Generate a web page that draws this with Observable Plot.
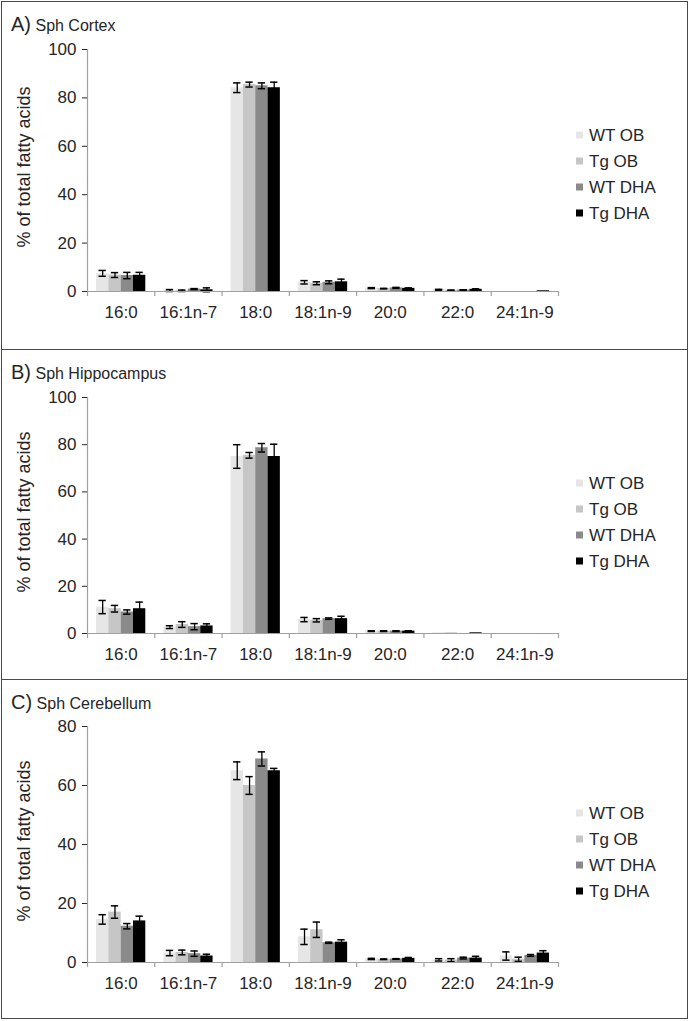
<!DOCTYPE html>
<html>
<head>
<meta charset="utf-8">
<script src="https://cdn.jsdelivr.net/npm/d3@7"></script>
<script src="https://cdn.jsdelivr.net/npm/@observablehq/plot@0.6"></script>
<style>
  html, body { margin: 0; padding: 0; background: #fff; }
  body { font-family: "Liberation Sans", Arial, sans-serif; color: #262626; }
  #chart { position: relative; width: 689px; height: 1021px; }
  .panel { position: absolute; left: 1px; width: 687px; box-sizing: border-box; border: 1.5px solid #4a4a4a; }
  .panel svg { position: absolute; left: 0; top: 0; overflow: visible; }
  .title { position: absolute; left: 9px; white-space: nowrap; line-height: 1; }
  .title .lt { font-size: 20px; }
  .title .nm { font-size: 16px; }
  .ylab { position: absolute; left: 22px; font-size: 18px; white-space: nowrap; transform: translate(-50%, -50%) rotate(-90deg); line-height: 1; }
  .legend { position: absolute; left: 574px; font-size: 17px; }
  .legend .item { position: absolute; left: 0; white-space: nowrap; line-height: 1; transform: translateY(-50%); }
  .legend .sw { display: inline-block; width: 7px; height: 7px; margin-right: 6px; vertical-align: 2px; }
  g[aria-label="y-axis tick"] { stroke: #a0a0a0; }
  g[aria-label="y-axis"] .tick line { stroke: #a0a0a0; }
</style>
</head>
<body>
<div id="chart"></div>
<script>
// ---- Data ----
const acids = ["16:0", "16:1n-7", "18:0", "18:1n-9", "20:0", "22:0", "24:1n-9"];
const groups = ["WT OB", "Tg OB", "WT DHA", "Tg DHA"];
const groupColors = ["#e6e6e6", "#c6c6c6", "#8a8a8a", "#000000"];
const ticks100 = [0, 20, 40, 60, 80, 100];
const ticks80 = [0, 20, 40, 60, 80];

// means per acid: [WT OB, Tg OB, WT DHA, Tg DHA]
const cortexMean = [[7.5, 6.8, 6.6, 6.7], [0.4, 0.3, 1.0, 0.7], [84.2, 85.5, 85.0, 84.2], [3.8, 3.4, 3.8, 4.0], [1.4, 1.2, 1.5, 1.3], [0.7, 0.5, 0.6, 0.9], [0, 0, 0, 0.3]];
const cortexSE = [[1.2, 1.0, 1.3, 1.2], [0.4, 0.3, 0.2, 0.8], [2.0, 1.0, 1.2, 2.3], [0.7, 0.6, 0.6, 1.1], [0.2, 0.1, 0.2, 0.2], [0.2, 0.1, 0.1, 0.2], [0, 0, 0, 0]];

const hippoMean = [[11.2, 10.5, 9.1, 10.5], [2.7, 3.8, 2.9, 3.2], [75.0, 75.5, 78.7, 75.0], [5.9, 5.6, 6.3, 6.3], [1.0, 1.0, 1.0, 1.0], [0.3, 0.3, 0, 0.3], [0, 0, 0, 0]];
const hippoSE = [[2.8, 1.4, 0.9, 2.8], [0.6, 1.2, 1.3, 0.9], [5.0, 1.2, 1.8, 5.2], [0.9, 0.7, 0.3, 1.0], [0.15, 0.15, 0.15, 0.15], [0, 0, 0, 0], [0, 0, 0, 0]];

const cerebMean = [[14.6, 17.1, 12.3, 14.1], [3.2, 3.4, 3.0, 2.2], [65.0, 60.0, 69.0, 65.0], [8.7, 11.1, 6.7, 6.9], [1.2, 1.1, 1.2, 1.4], [0.9, 0.8, 1.5, 1.5], [2.2, 1.1, 2.4, 3.2]];
const cerebSE = [[1.6, 2.1, 0.9, 1.6], [0.9, 0.8, 0.9, 0.6], [3.0, 3.0, 2.4, 0.8], [2.6, 2.6, 0.2, 0.8], [0.2, 0.1, 0.1, 0.3], [0.4, 0.5, 0.3, 0.6], [1.4, 0.7, 0.3, 0.8]];

const panelLetters = ["A)", "B)", "C)"];
const panelNames = ["Sph Cortex", "Sph Hippocampus", "Sph Cerebellum"];
const yLabel = "% of total fatty acids";

// ---- Layout ----
const layouts = [
  {top: 1, h: 349, mt: 47, plotH: 242, yMax: 100, ticks: ticks100, mean: cortexMean, se: cortexSE},
  {top: 349, h: 331, mt: 47, plotH: 236, yMax: 100, ticks: ticks100, mean: hippoMean, se: hippoSE},
  {top: 679, h: 340, mt: 46, plotH: 236, yMax: 80, ticks: ticks80, mean: cerebMean, se: cerebSE}
];
const W = 684, ML = 85, MR = 128, MB = 34;
const padOuter = 0.73;
const axisGray = "#a0a0a0";

function rowsFor(mean, se) {
  const rows = [];
  acids.forEach((a, i) => groups.forEach((g, j) => rows.push({acid: a, group: g, value: mean[i][j], se: se[i][j]})));
  return rows;
}

const chart = document.getElementById("chart");

layouts.forEach((L, p) => {
  const panel = document.createElement("div");
  panel.className = "panel";
  panel.style.top = L.top + "px";
  panel.style.height = L.h + "px";
  chart.appendChild(panel);

  const rows = rowsFor(L.mean, L.se);
  const errRows = rows.filter(d => d.se > 0);
  const fw = (W - ML - MR) / acids.length;
  const step = fw / (groups.length + 2 * padOuter);
  const edge = step * (0.5 + padOuter);
  const H = L.mt + L.plotH + MB;

  const svg = Plot.plot({
    width: W,
    height: H,
    marginLeft: ML,
    marginRight: MR,
    marginTop: L.mt,
    marginBottom: MB,
    style: {fontFamily: "'Liberation Sans', Arial, sans-serif", fontSize: "17px", color: "#262626", background: "transparent", overflow: "visible"},
    fx: {domain: acids, padding: 0, round: false, label: null, axis: "bottom", tickSize: 0, tickPadding: 14},
    x: {domain: groups, paddingInner: 0, paddingOuter: padOuter, round: false, axis: null},
    y: {domain: [0, L.yMax], ticks: L.ticks, tickSize: 5, tickPadding: 6, label: null},
    color: {domain: groups, range: groupColors},
    marks: [
      Plot.barY(rows, {fx: "acid", x: "group", y: "value", fill: "group"}),
      Plot.ruleX(errRows, {fx: "acid", x: "group", y1: d => d.value - d.se, y2: d => d.value + d.se, stroke: "#000", strokeWidth: 1.3}),
      Plot.tickY(errRows, {fx: "acid", x: "group", y: d => d.value + d.se, insetLeft: 2.5, insetRight: 2.5, stroke: "#000", strokeWidth: 1.5}),
      Plot.tickY(errRows, {fx: "acid", x: "group", y: d => d.value - d.se, insetLeft: 2.5, insetRight: 2.5, stroke: "#000", strokeWidth: 1.5}),
      // x axis line and category boundary ticks
      Plot.ruleY([0], {stroke: axisGray, strokeWidth: 1.2}),
      Plot.ruleX([groups[0]], {x: d => d, y1: 0, y2: 0, insetBottom: -5, dx: -edge, stroke: axisGray, strokeWidth: 1.2}),
      Plot.ruleX([{a: acids[acids.length - 1], g: groups[groups.length - 1]}], {fx: "a", x: "g", y1: 0, y2: 0, insetBottom: -5, dx: edge, stroke: axisGray, strokeWidth: 1.2}),
      // y axis line
      Plot.ruleX([{a: acids[0], g: groups[0]}], {fx: "a", x: "g", y1: 0, y2: L.yMax, dx: -edge, stroke: axisGray, strokeWidth: 1.2})
    ]
  });
  panel.appendChild(svg);

  const title = document.createElement("div");
  title.className = "title";
  title.style.top = "12px";
  title.innerHTML = `<span class="lt">${panelLetters[p]}</span> <span class="nm">${panelNames[p]}</span>`;
  panel.appendChild(title);

  const yl = document.createElement("div");
  yl.className = "ylab";
  yl.style.top = (L.mt + L.plotH / 2 - 3) + "px";
  yl.textContent = yLabel;
  panel.appendChild(yl);

  const leg = document.createElement("div");
  leg.className = "legend";
  leg.style.top = "133px";
  groups.forEach((g, j) => {
    const it = document.createElement("div");
    it.className = "item";
    it.style.top = (j * 26) + "px";
    it.innerHTML = `<span class="sw" style="background:${groupColors[j]}"></span>${g}`;
    leg.appendChild(it);
  });
  panel.appendChild(leg);
});
</script>
</body>
</html>
